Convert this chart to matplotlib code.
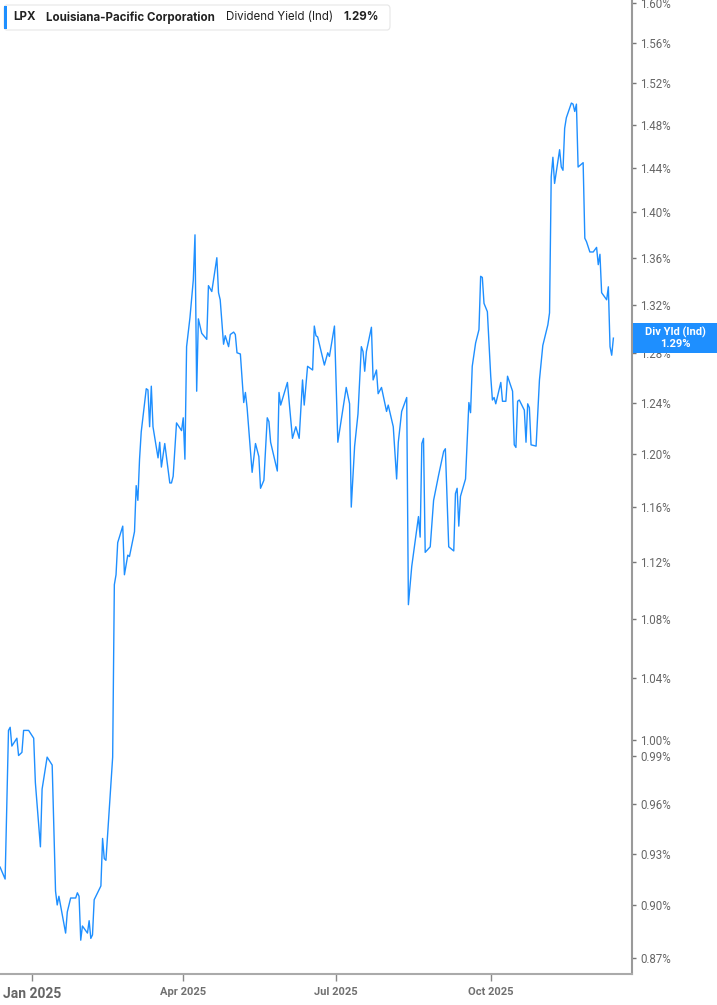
import numpy as np
import pandas as pd
import matplotlib
matplotlib.use('Agg')
import matplotlib.pyplot as plt
import matplotlib.dates as mdates
from matplotlib.patches import FancyBboxPatch, Rectangle
from matplotlib.ticker import FixedLocator, NullLocator

plt.rcParams['font.family'] = ['Inter', 'DejaVu Sans']

# days counted from 2025-01-01 (negative = Dec 2024)
day_offsets = [-19, -16, -14, -13, -12, -9, -8, -6, -5, -2, 1, 2, 5, 6, 9, 12, 14, 15, 16,
               20, 21, 23, 26, 27, 28, 29, 30, 33, 34, 35, 36, 37, 41, 42, 43, 44, 48, 49,
               50, 51, 54, 55, 57, 58, 61, 62, 63, 64, 65, 68, 69, 70, 71, 72, 75, 76, 77,
               79, 82, 83, 84, 86, 89, 90, 91, 92, 94, 96, 97, 98, 99, 101, 104, 105, 107,
               110, 111, 112, 114, 115, 117, 118, 120, 121, 122, 124, 126, 127, 128, 131,
               133, 135, 136, 138, 140, 141, 142, 146, 147, 148, 152, 154, 155, 157, 159,
               161, 162, 164, 167, 168, 169, 170, 174, 176, 177, 180, 181, 182, 187, 189,
               190, 192, 194, 196, 197, 198, 199, 202, 203, 205, 206, 208, 211, 212, 215,
               217, 218, 220, 223, 224, 226, 230, 231, 232, 233, 234, 237, 239, 242, 245,
               246, 248, 251, 252, 253, 254, 255, 258, 260, 261, 262, 264, 266, 267, 268,
               269, 271, 273, 274, 275, 276, 279, 280, 282, 283, 286, 287, 288, 289, 290,
               293, 294, 295, 296, 297, 300, 302, 304, 307, 308, 309, 310, 311, 314, 315,
               316, 317, 318, 321, 322, 323, 324, 325, 328, 329, 330, 332, 334, 336, 337,
               338, 339, 342, 343, 344, 345, 346]

div_yield = [0.922, 0.915, 1.006, 1.008, 0.996, 1.001, 0.990, 0.992, 1.006, 1.006, 1.001,
             0.973, 0.934, 0.969, 0.989, 0.984, 0.908, 0.900, 0.905, 0.884, 0.896, 0.904,
             0.904, 0.907, 0.905, 0.880, 0.888, 0.884, 0.891, 0.881, 0.883, 0.903, 0.911,
             0.939, 0.927, 0.926, 0.989, 1.104, 1.111, 1.134, 1.146, 1.111, 1.125, 1.124,
             1.142, 1.176, 1.165, 1.196, 1.217, 1.251, 1.250, 1.221, 1.253, 1.221, 1.197,
             1.209, 1.190, 1.208, 1.178, 1.178, 1.183, 1.224, 1.218, 1.228, 1.196, 1.285,
             1.309, 1.341, 1.380, 1.249, 1.308, 1.296, 1.291, 1.336, 1.331, 1.360, 1.330,
             1.324, 1.287, 1.294, 1.285, 1.295, 1.297, 1.295, 1.280, 1.279, 1.240, 1.248,
             1.236, 1.186, 1.208, 1.198, 1.174, 1.180, 1.228, 1.225, 1.209, 1.187, 1.248,
             1.238, 1.256, 1.227, 1.212, 1.221, 1.212, 1.258, 1.238, 1.269, 1.266, 1.302,
             1.294, 1.293, 1.270, 1.280, 1.277, 1.302, 1.256, 1.209, 1.252, 1.239, 1.160,
             1.206, 1.231, 1.285, 1.281, 1.265, 1.281, 1.301, 1.258, 1.266, 1.247, 1.252,
             1.233, 1.238, 1.221, 1.181, 1.209, 1.233, 1.244, 1.090, 1.117, 1.153, 1.138,
             1.208, 1.212, 1.127, 1.131, 1.165, 1.184, 1.202, 1.204, 1.131, 1.128, 1.170,
             1.174, 1.146, 1.168, 1.181, 1.240, 1.232, 1.269, 1.288, 1.299, 1.344, 1.343,
             1.321, 1.314, 1.261, 1.242, 1.244, 1.239, 1.256, 1.241, 1.241, 1.261, 1.249,
             1.207, 1.205, 1.241, 1.242, 1.234, 1.209, 1.239, 1.236, 1.207, 1.206, 1.258,
             1.286, 1.303, 1.313, 1.432, 1.450, 1.426, 1.457, 1.441, 1.438, 1.477, 1.487,
             1.501, 1.500, 1.493, 1.500, 1.441, 1.445, 1.377, 1.374, 1.365, 1.365, 1.369,
             1.354, 1.363, 1.330, 1.324, 1.335, 1.285, 1.278, 1.292]

y_ticks = [0.87, 0.90, 0.93, 0.96, 0.99, 1.00, 1.04, 1.08, 1.12, 1.16, 1.20, 1.24, 1.28,
           1.32, 1.36, 1.40, 1.44, 1.48, 1.52, 1.56, 1.60]
x_ticks = ['2025-01-01', '2025-04-01', '2025-07-01', '2025-10-01']
x_labels = ['Jan 2025', 'Apr 2025', 'Jul 2025', 'Oct 2025']

last_value = div_yield[-1]
blue = '#1E8FFF'
grey = '#9a9a9a'

dates = pd.Timestamp('2025-01-01') + pd.to_timedelta(day_offsets, unit='D')

fig = plt.figure(figsize=(7.17, 10.05), dpi=100)
ax = fig.add_axes([0.0, 0.0308, 0.8815, 0.9692])

ax.plot(dates, div_yield, color=blue, lw=1.0)

ax.set_yscale('log')
ax.set_ylim(0.8612, 1.603)
t0 = pd.Timestamp('2025-01-01')
ax.set_xlim(t0 - pd.Timedelta(days=19.05), t0 + pd.Timedelta(days=357.1))

ax.yaxis.tick_right()
ax.yaxis.set_major_locator(FixedLocator(y_ticks))
ax.yaxis.set_minor_locator(NullLocator())
ax.set_yticklabels([f'{v:.2f}%' for v in y_ticks])
ax.tick_params(axis='y', which='major', length=3, width=1, color='#777777',
               labelcolor='#666666', labelsize=8.3, pad=3)
for lab in ax.get_yticklabels():
    lab.set_fontfamily(['Roboto', 'DejaVu Sans'])

ax.set_xticks(pd.to_datetime(x_ticks))
ax.set_xticklabels(x_labels)
ax.tick_params(axis='x', length=5, width=1, color='#888888', labelcolor='#707070',
               labelsize=8, pad=4)
for i, lab in enumerate(ax.get_xticklabels()):
    lab.set_fontweight('semibold')
    lab.set_fontfamily(['Roboto', 'DejaVu Sans'])
    if i == 0:
        lab.set_fontsize(10)
        lab.set_fontweight('bold')
        lab.set_color('#666666')

for side in ['left', 'top']:
    ax.spines[side].set_visible(False)
ax.spines['right'].set_color(grey)
ax.spines['right'].set_linewidth(1.5)
ax.spines['bottom'].set_color('#aaaaaa')
ax.spines['bottom'].set_linewidth(1.5)

# header box
hdr = FancyBboxPatch((4 / 717, 1 - 30 / 1005), 386 / 717, 25 / 1005,
                     boxstyle='round,pad=0,rounding_size=0.004',
                     transform=fig.transFigure, facecolor='white',
                     edgecolor='#e6e6e6', lw=0.8, zorder=5)
fig.patches.append(hdr)
fig.patches.append(Rectangle((4 / 717, 1 - 29 / 1005), 2.5 / 717, 23 / 1005,
                             transform=fig.transFigure, facecolor=blue,
                             edgecolor='none', zorder=6))
hy = 1 - 17.5 / 1005
hs = 8.3
fig.text(13 / 717, hy, 'LPX', fontsize=hs, fontweight='bold', color='#222222',
         va='center', zorder=7)
fig.text(46 / 717, hy, 'Louisiana-Pacific Corporation', fontsize=hs, fontweight='bold',
         color='#222222', va='center', zorder=7)
fig.text(226 / 717, hy, 'Dividend Yield (Ind)', fontsize=hs, color='#222222',
         va='center', zorder=7)
fig.text(343 / 717, hy, f'{last_value:.2f}%', fontsize=hs, fontweight='bold',
         color='#222222', va='center', zorder=7)

# last value label on the right axis
fig.patches.append(Rectangle((633 / 717, 1 - 353 / 1005), 84 / 717, 30 / 1005,
                             transform=fig.transFigure, facecolor=blue,
                             edgecolor='none', zorder=8))
fig.text(675 / 717, 1 - 332 / 1005, 'Div Yld (Ind)', fontsize=8, fontweight='bold',
         color='white', ha='center', va='center', zorder=9,
         family=['Roboto', 'DejaVu Sans'])
fig.text(675 / 717, 1 - 344 / 1005, f'{last_value:.2f}%', fontsize=8, fontweight='bold',
         color='white', ha='center', va='center', zorder=9,
         family=['Roboto', 'DejaVu Sans'])

fig.savefig('out.png', dpi=100)
